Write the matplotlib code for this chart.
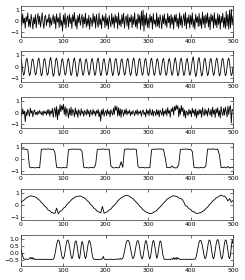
import numpy as np
import matplotlib
matplotlib.use("Agg")
import matplotlib.pyplot as plt

# ---- data ----
x_ticks = [0, 100, 200, 300, 400, 500]

s1 = [0.45, -0.35, 0.62, -0.18, 0.25, -0.62, 0.38, -0.05, 0.70, -0.48,
      0.15, -0.55, 0.58, 0.02, -0.70, 0.32, -0.25, 0.55, -0.60, 0.22,
      0.65, -0.30, 0.42, -0.52, 0.08, 0.72, -0.20, -0.64, 0.35, 0.50,
      -0.42, 0.18, -0.12, 0.60, -0.55, 0.30, -0.35, 0.12, 0.55, -0.25,
      0.40, -0.68, 0.62, -0.10, 0.28, -0.58, 0.70, -0.40, 0.05, -0.88,
      0.52, -0.30, 0.68, -0.62, 0.15, 0.45, -0.50, 0.60, -0.22, 0.33,
      -0.65, 0.55, -0.05, 0.75, -0.45, 0.20, -0.70, 0.48, -0.15, 0.62,
      -0.38, 0.10, 0.58, -0.60, 0.35, -0.25, 0.68, -0.55, 0.22, -0.40,
      0.50, -0.72, 0.30, 0.05, -0.48, 0.65, -0.18, 0.42, -0.62, 0.58,
      -0.10, -0.55, 0.70, -0.32, 0.18, -0.66, 0.52, -0.02, 0.38, -0.58,
      0.62, -0.40, 0.25, -0.70, 0.48, 0.00, -0.52, 0.66, -0.28, 0.35,
      -0.60, 0.58, -0.15, 0.40, -0.68, 0.72, -0.35, 0.12, -0.50, 0.55,
      -0.22, 0.68, -0.62, 0.20, 0.45, -0.45, 0.60, -0.72, 0.30, -0.08,
      0.55, -0.58, 0.38, -0.30, 0.72, -0.50, 0.15, -0.65, 0.62, -0.20,
      0.48, -0.75, 0.85, -0.40, 0.95, -0.88, 0.52, -0.35, 0.68, -0.55,
      0.25, -0.62, 0.58, -0.12, 0.40, -0.70, 0.65, -0.28, 0.10, -0.52,
      0.70, -0.45, 0.32, -0.60, 0.55, 0.05, -0.68, 0.48, -0.22, 0.62,
      -0.38, 0.20, -0.55, 0.66, -0.15, 0.42, -0.62, 0.58, -0.30, 0.35,
      -0.70, 0.52, -0.08, 0.60, -0.48, 0.25, -0.64, 0.70, -0.35, 0.45,
      -0.58, 0.15, 0.62, -0.40, 0.75, -0.68, 0.30, -0.20, 0.55, -0.62,
      0.48, -0.30, 0.72, -0.55, 0.18, -0.72, 0.60, -0.12, 0.38, -0.50,
      0.66, -0.42, 0.25, -0.65, 0.78, -0.28, 0.45, -0.60, 0.55, -0.18,
      0.70, -0.52, 0.35, -0.75, 0.62, -0.05, 0.48, -0.62, 0.72, -0.38,
      0.20, -0.58, 0.65, -0.30, 0.52, -0.70, 0.40, -0.15, 0.68, -0.55,
      0.30, -0.66, 0.85, -0.45, 0.58, -0.72, 0.95, -0.60, 1.02, -0.35,
      0.40]

s2 = [0.70, 0.32, -0.32, -0.73, -0.58, 0.00, 0.58,
      0.76, 0.34, -0.34, -0.76, -0.61, 0.01, 0.61,
      0.70, 0.31, -0.31, -0.70, -0.56, -0.01, 0.56,
      0.78, 0.35, -0.35, -0.78, -0.62, 0.00, 0.62,
      0.73, 0.33, -0.33, -0.73, -0.59, 0.02, 0.59,
      0.83, 0.37, -0.36, -0.82, -0.66, 0.00, 0.66,
      0.76, 0.34, -0.35, -0.78, -0.62, -0.02, 0.60,
      0.72, 0.32, -0.32, -0.72, -0.58, 0.01, 0.58,
      0.74, 0.33, -0.34, -0.75, -0.60, 0.00, 0.60,
      0.78, 0.35, -0.36, -0.84, -0.66, 0.01, 0.62,
      0.73, 0.32, -0.33, -0.74, -0.59, -0.01, 0.58,
      0.70, 0.31, -0.31, -0.71, -0.57, 0.00, 0.57,
      0.75, 0.34, -0.33, -0.74, -0.60, 0.02, 0.60,
      0.77, 0.35, -0.35, -0.77, -0.61, 0.00, 0.61,
      0.72, 0.32, -0.32, -0.73, -0.58, -0.01, 0.58,
      0.76, 0.34, -0.34, -0.76, -0.60, 0.00, 0.61,
      0.74, 0.33, -0.33, -0.74, -0.59, 0.01, 0.59,
      0.71, 0.32, -0.32, -0.72, -0.57, 0.00, 0.57,
      0.75, 0.33, -0.34, -0.75, -0.60, -0.01, 0.60,
      0.78, 0.35, -0.35, -0.78, -0.62, 0.00, 0.62,
      0.73, 0.33, -0.33, -0.73, -0.58, 0.01, 0.58,
      0.74, 0.33, -0.34, -0.76, -0.61, 0.00, 0.60,
      0.76, 0.34, -0.33, -0.74, -0.59, 0.02, 0.60,
      0.72, 0.32, -0.32, -0.72, -0.58, -0.01, 0.58,
      0.75, 0.34, -0.34, -0.75, -0.60, 0.00, 0.60,
      0.73, 0.33, -0.33, -0.74, -0.59, 0.01, 0.59,
      0.80, 0.36, -0.35, -0.79, -0.63, 0.00, 0.63,
      0.76, 0.34, -0.34, -0.76, -0.61, -0.01, 0.61,
      0.74, 0.33, -0.33, -0.73, -0.58, 0.00, 0.59,
      0.88, 0.39, -0.38, -0.84, -0.67, 0.01, 0.67,
      0.82, 0.37, -0.36, -0.80, -0.64, 0.00, 0.64,
      0.76, 0.34, -0.34, -0.76, -0.60, -0.01, 0.60,
      0.74, 0.33, -0.33, -0.74, -0.59, 0.00, 0.59,
      0.78, 0.35, -0.35, -0.78, -0.62, 0.01, 0.62,
      0.75, 0.34, -0.34, -0.77, -0.61, 0.00, 0.60,
      0.76, 0.34, -0.34, -0.76, -0.60, 0.00]

s3 = [0.05, -0.20, 0.35, -0.10, 0.15, -0.78, 0.10, -0.25, 0.30, 0.05,
      -0.30, 0.40, -0.05, 0.20, -0.35, 0.10, 0.25, -0.15, 0.05, -0.20,
      0.15, -0.10, 0.20, 0.00, -0.15, 0.12, -0.25, 0.18, -0.05, 0.10,
      -0.20, 0.25, -0.10, 0.30, -0.30, 0.15, -0.05, 0.38, -0.40, 0.20,
      0.45, -0.35, 0.55, -0.60, 0.30, -0.20, 0.70, 0.10, 0.62, 0.25,
      0.75, -0.15, 0.55, -0.30, 0.40, 0.05, -0.45, 0.35, -0.20, 0.50,
      -0.25, 0.30, 0.10, -0.35, 0.42, -0.15, 0.20, -0.40, 0.28, 0.05,
      -0.25, 0.35, -0.10, 0.15, -0.30, 0.22, 0.00, -0.20, 0.32, -0.12,
      0.18, -0.35, 0.25, 0.05, -0.22, 0.30, -0.10, 0.15, -0.28, 0.20,
      -0.05, 0.30, -0.35, 0.10, -0.72, 0.25, -0.15, 0.35, -0.30, 0.05,
      0.20, -0.25, 0.30, -0.10, 0.15, -0.35, 0.28, 0.00, -0.20, 0.40,
      -0.15, 0.62, 0.20, 0.55, -0.30, 0.45, -0.25, 0.35, -0.40, 0.30,
      0.05, -0.30, 0.25, -0.10, 0.35, -0.20, 0.15, -0.05, 0.25, -0.25,
      0.10, -0.15, 0.20, 0.00, -0.25, 0.18, -0.10, 0.28, -0.20, 0.12,
      -0.05, 0.20, -0.30, 0.10, 0.25, -0.15, 0.05, -0.35, 0.30, -0.10,
      0.20, -0.25, 0.35, 0.00, -0.20, 0.28, -0.30, 0.15, 0.05, -0.25,
      0.30, -0.15, 0.20, -0.35, 0.25, 0.05, -0.20, 0.40, -0.30, 0.15,
      -0.10, 0.30, -0.25, 0.45, -0.05, 0.20, -0.40, 0.35, 0.10, 0.50,
      -0.20, 0.55, 0.20, 0.68, 0.30, 0.62, -0.35, 0.40, -0.15, 0.65,
      0.10, 0.45, -0.30, 0.25, -0.45, 0.15, 0.05, -0.25, 0.30, -0.10,
      0.20, -0.35, 0.40, -0.05, 0.25, -0.30, 0.35, -0.45, 0.15, -0.20,
      0.30, -0.10, 0.25, -0.40, 0.45, 0.00, -0.25, 0.35, -0.15, 0.20,
      -0.30, 0.40, 0.05, -0.20, 0.30, -0.35, 0.50, -0.10, 0.25, -0.40,
      0.35, -0.05, 0.45, -0.30, 0.20, -0.45, 0.55, 0.00, -0.25, 0.40,
      -0.20, 0.50, 0.10, -0.35, 0.58, -0.15, 0.45, 0.62, -0.88, 0.30,
      0.20]

s4 = [0.80, 0.82, 0.80, 0.79, 0.75,
      -0.70, -0.76, -0.74, -0.77, -0.75, -0.74, -0.76,
      0.78, 0.80, 0.81, 0.79, 0.82, 0.80, 0.78, 0.80,
      0.50,
      -0.72, -0.76, -0.75, -0.77, -0.74, -0.76, -0.75,
      0.75, 0.80, 0.79, 0.81, 0.80, 0.78, 0.80, 0.79,
      0.60,
      -0.72, -0.76, -0.75, -0.77, -0.74, -0.75, -0.76,
      -0.50,
      0.78, 0.80, 0.79, 0.81, 0.80, 0.78, 0.80, 0.79,
      -0.60,
      -0.75, -0.77, -0.74, -0.76, -0.75, -0.25, -0.74,
      0.78, 0.80, 0.82, 0.80, 0.79, 0.81, 0.80, 0.78,
      -0.65,
      -0.76, -0.75, -0.74, -0.77, -0.75, -0.76, -0.74,
      0.76, 0.80, 0.79, 0.81, 0.80, 0.82, 0.80, 0.79,
      0.10,
      -0.75, -0.74, -0.76, -0.60, -0.75, -0.77, -0.76,
      -0.50,
      0.78, 0.80, 0.79, 0.81, 0.80, 0.78, 0.80,
      0.60,
      -0.74, -0.76, -0.75, -0.77, -0.74, -0.76, -0.75,
      -0.60,
      0.80, 0.81, 0.79, 0.82, 0.80, 0.78, 0.80,
      0.30,
      -0.76, -0.74, -0.70, -0.77, -0.65, -0.78, -0.72, -0.74]

s5 = [0.18, 0.30, 0.40, 0.55, 0.62, 0.70, 0.73, 0.70, 0.66, 0.60, 0.46, 0.36, 0.18, 0.06,
      -0.14, -0.25, -0.45, -0.52, -0.66, -0.70, -0.74, -0.30, -0.78, -0.55, -0.52, -0.30, -0.22, -0.02,
      0.15, 0.27, 0.45, 0.52, 0.65, 0.68, 0.71, 0.72, 0.65, 0.58, 0.50, 0.33, 0.22, 0.02,
      -0.10, -0.30, -0.40, -0.56, -0.62, -0.70, -0.15, -0.73, -0.65, -0.60, -0.45, -0.38, -0.18, -0.06,
      0.10, 0.30, 0.44, 0.56, 0.64, 0.72, 0.78, 0.74, 0.70, 0.58, 0.50, 0.34, 0.20, 0.05,
      -0.13, -0.27, -0.44, -0.55, -0.64, -0.70, -0.76, -0.74, -0.66, -0.58, -0.50, -0.34, -0.20, -0.05,
      0.14, 0.26, 0.43, 0.53, 0.62, 0.70, 0.74, 0.70, 0.68, 0.56, 0.50, 0.45, 0.22, -0.10,
      -0.15, -0.35, -0.40, -0.58, -0.60, -0.72, -0.74, -0.70, -0.68, -0.56, -0.50, -0.33, -0.22, -0.02,
      0.12, 0.30, 0.40, 0.55, 0.62, 0.72, 0.80, 0.70, 0.72, 0.56, 0.30, 0.50, 0.20, 0.35]

s6 = [0.30, 0.05, -0.20, -0.38, -0.41, -0.43, -0.40, -0.42, -0.44, -0.41,
      -0.38, -0.30, -0.40, -0.28, -0.42, -0.35, -0.43, -0.41, -0.44, -0.42,
      -0.43, -0.41, -0.44, -0.42, -0.43, -0.45, -0.42, -0.44, -0.43, -0.41,
      -0.44, -0.43, -0.42, -0.44, -0.43, -0.42, -0.44, -0.43, -0.42, -0.33,
      -0.08, 0.27, 0.61, 0.86, 0.95, 0.86, 0.58, 0.20, -0.15, -0.36,
      -0.38, -0.20, 0.15, 0.55, 0.85, 0.95, 0.85, 0.55, 0.15, -0.20,
      -0.38, -0.25, 0.10, 0.50, 0.85, 0.88, 0.60, 0.15, -0.25, -0.38,
      0.00, 0.55, 0.85, 0.70, 0.25, -0.15, -0.38, -0.20, 0.20, 0.60,
      0.88, 0.90, 0.70, 0.30, -0.10, -0.35, -0.42,
      -0.43, -0.42, -0.44, -0.43, -0.42, -0.44, -0.43, -0.42, -0.43, -0.38,
      -0.22, -0.40, -0.43, -0.44, -0.42, -0.43, -0.44, -0.42, -0.43, -0.41,
      -0.44, -0.43, -0.42, -0.44, -0.43, -0.41, -0.42, -0.40, -0.43, -0.41,
      -0.35, -0.42,
      -0.40, -0.35, -0.15, 0.15, 0.45, 0.72, 0.90, 0.93,
      0.88, 0.70, 0.40, 0.05, -0.22, -0.38,
      -0.30, -0.05, 0.30, 0.65, 0.88, 0.90,
      0.72, 0.35, -0.05, -0.32, -0.40,
      -0.20, 0.20, 0.62, 0.90, 0.85,
      0.50, 0.10, -0.28, -0.40,
      -0.15, 0.30, 0.72, 0.92, 0.80,
      0.40, -0.05, -0.35,
      -0.25, 0.15, 0.60, 0.88, 0.82,
      0.45, 0.00, -0.30, -0.42,
      -0.43, -0.42, -0.44, -0.43, -0.42, -0.44, -0.43, -0.42, -0.38, -0.43,
      -0.30, -0.42, -0.33, -0.44, -0.28, -0.40, -0.35, -0.43, -0.42, -0.44,
      -0.43, -0.42, -0.44, -0.43, -0.41, -0.43, -0.44, -0.42, -0.43, -0.41,
      -0.44, -0.43, -0.42, -0.43, -0.41,
      -0.42, -0.35, -0.15, 0.20, 0.50, 0.78, 0.92, 0.92,
      0.78, 0.50, 0.15, -0.18, -0.38,
      -0.30, 0.00, 0.40, 0.78, 0.95, 0.88,
      0.55, 0.12, -0.25, -0.40,
      -0.20, 0.20, 0.62, 0.90, 0.98, 0.85,
      0.45, 0.00, -0.32, -0.40,
      -0.15, 0.30, 0.72, 0.95, 0.92,
      0.60, 0.15, -0.25, -0.38,
      -0.10, 0.45, 0.95, 0.70]

series = [(s1, 2), (s2, 2), (s3, 2), (s4, 4), (s5, 4), (s6, 2)]
ylims = [(-1.35, 1.35), (-1.35, 1.35), (-1.35, 1.35), (-1.3, 1.3), (-1.3, 1.3), (-0.9, 1.3)]
yticks = [[-1, 0, 1]] * 5 + [[-0.5, 0.0, 0.5, 1.0]]
yticklabels = [["\u22121", "0", "1"]] * 5 + [["\u22120.5", "0.0", "0.5", "1.0"]]

fig = plt.figure(figsize=(2.45, 2.80), dpi=100)
fig.subplots_adjust(left=21 / 245, right=233 / 245, top=1 - 5.5 / 280,
                    bottom=1 - 266 / 280, hspace=0.48)
axes = fig.subplots(6, 1)

for ax, (vals, step), yl, yt, ytl in zip(axes, series, ylims, yticks, yticklabels):
    xs = np.arange(len(vals)) * step
    ax.plot(xs, vals, color="black", linewidth=0.6)
    ax.set_xlim(0, 500)
    ax.set_ylim(*yl)
    ax.set_xticks(x_ticks)
    ax.set_yticks(yt)
    ax.set_yticklabels(ytl)
    ax.tick_params(direction="in", length=2, width=0.4, labelsize=4.4,
                   top=True, right=True, pad=1.5, colors="black")
    for sp in ax.spines.values():
        sp.set_linewidth(0.5)
        sp.set_color("#333333")

fig.savefig("out.png", dpi=100)
